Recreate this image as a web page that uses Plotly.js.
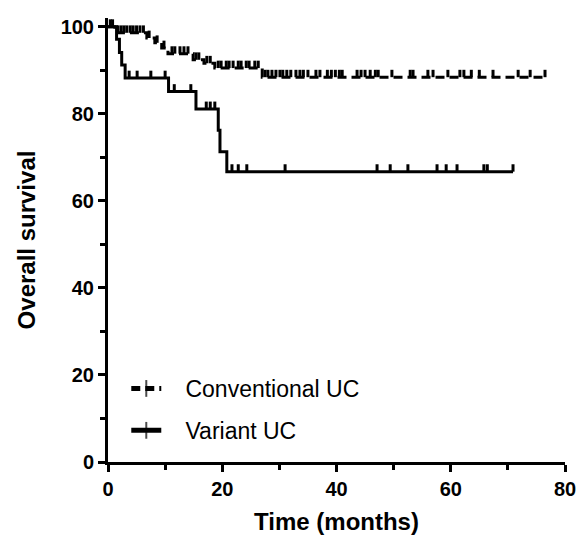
<!DOCTYPE html>
<html>
<head>
<meta charset="utf-8">
<script src="https://cdn.plot.ly/plotly-3.0.1.min.js"></script>
<style>html,body{margin:0;padding:0;background:#fff;}#chart{width:583px;height:547px;}</style>
</head>
<body>
<div id="chart"></div>
<script>
// Kaplan-Meier step data (time in months, overall survival %)
const convTime = [0, 1.2, 6.8, 8.2, 9.4, 10.5, 14.9, 16.8, 18.7, 27.0, 76.5];
const convSurv = [100, 98.6, 97.4, 96.3, 95.1, 93.8, 92.4, 91.6, 90.5, 88.4, 88.4];
const varTime = [0, 1.5, 2.0, 2.4, 3.0, 10.6, 15.4, 19.3, 19.6, 20.8, 70.9];
const varSurv = [100, 97.1, 94.1, 91.2, 88.2, 85.1, 81.1, 76.2, 71.3, 66.7, 66.7];

// Censoring times (months)
const convCensor = [0.4, 0.8, 1.75, 2.3, 2.8, 3.3, 3.9, 4.4, 5.0, 5.6, 6.2, 7.2, 8.6, 9.8,
  11.2, 11.7, 12.6, 13.3, 14.0, 15.4, 15.9, 17.3, 17.9, 19.3, 19.8, 20.7, 21.2, 21.9, 22.8,
  23.3, 24.2, 24.7, 25.7, 26.3, 27.5, 28.0, 28.7, 29.4, 30.1, 30.6, 31.3, 32.0, 32.9, 33.6,
  34.2, 35.0, 36.4, 37.1, 38.4, 39.1, 39.8, 40.5, 41.0, 43.6, 44.3, 45.0, 45.9, 46.8, 47.3,
  49.7, 52.9, 53.4, 56.0, 56.9, 59.5, 61.6, 62.3, 63.6, 65.0, 67.4, 71.8, 73.9, 76.5];
const varCensor = [3.7, 5.1, 7.5, 10.0, 11.6, 14.5, 17.2, 17.9, 18.7, 21.7, 22.8, 24.3, 31.0,
  47.1, 49.4, 52.5, 57.6, 59.2, 61.1, 65.8, 66.4, 70.9];

const seriesNames = ['Conventional UC', 'Variant UC'];
const xTickVals = [0, 20, 40, 60, 80];
const yTickVals = [0, 20, 40, 60, 80, 100];

function survAt(times, surv, t) {
  let s = surv[0];
  for (let i = 0; i < times.length; i++) { if (times[i] <= t) s = surv[i]; }
  return s;
}

const TICK_UP = 1.7; // censor mark height (data units)
const LW = 3;
const PAD = '\u00a0\u00a0\u00a0'; // gap between legend symbol and label

function kmTraces(times, surv, cens, name, dash, grp) {
  return [
    {
      x: times, y: surv, type: 'scatter', mode: 'lines+markers', name: PAD + name,
      legendgroup: grp, showlegend: true,
      line: {shape: 'hv', color: 'black', width: LW, dash: dash},
      marker: {symbol: 'line-ns', size: times.map(() => 0.001), color: 'black',
               line: {color: 'black', width: LW}},
      hoverinfo: 'skip'
    },
    {
      x: cens, y: cens.map(t => survAt(times, surv, t)), type: 'scatter', mode: 'markers',
      legendgroup: grp, showlegend: false,
      marker: {size: 1, color: 'rgba(0,0,0,0)'},
      error_y: {type: 'constant', symmetric: false, value: TICK_UP, valueminus: 0,
                width: 0, thickness: LW, color: 'black'},
      hoverinfo: 'skip'
    }
  ];
}

const data = [
  ...kmTraces(convTime, convSurv, convCensor, seriesNames[0], '9px,5px', 'g1'),
  ...kmTraces(varTime, varSurv, varCensor, seriesNames[1], 'solid', 'g2')
];

const FONT = 'Liberation Sans, Arial, Helvetica, sans-serif';
const layout = {
  width: 583, height: 547,
  margin: {l: 108, r: 18, t: 18, b: 85},
  paper_bgcolor: 'white', plot_bgcolor: 'white',
  showlegend: true,
  legend: {
    x: 0.04, y: 0.214, xanchor: 'left', yanchor: 'top',
    font: {family: FONT, size: 23, color: 'black'},
    bgcolor: 'rgba(0,0,0,0)', borderwidth: 0, itemwidth: 30,
    traceorder: 'grouped', tracegroupgap: 9, itemsizing: 'constant'
  },
  xaxis: {
    range: [0, 80], tickvals: xTickVals, ticktext: xTickVals.map(String),
    showgrid: false, zeroline: false,
    showline: true, linecolor: 'black', linewidth: LW,
    ticks: 'outside', ticklen: 7, tickwidth: LW, tickcolor: 'black',
    minor: {dtick: 10, tick0: 0, ticks: 'outside', ticklen: 5, tickwidth: LW, tickcolor: 'black'},
    tickfont: {family: FONT, size: 20, color: 'black', weight: 'bold'},
    title: {text: 'Time (months)', font: {family: FONT, size: 24, color: 'black', weight: 'bold'}, standoff: 15},
    fixedrange: true
  },
  yaxis: {
    range: [0, 102], tickvals: yTickVals, ticktext: yTickVals.map(String),
    showgrid: false, zeroline: false,
    showline: true, linecolor: 'black', linewidth: LW,
    ticks: 'outside', ticklen: 7, tickwidth: LW, tickcolor: 'black',
    minor: {dtick: 10, tick0: 0, ticks: 'outside', ticklen: 5, tickwidth: LW, tickcolor: 'black'},
    tickfont: {family: FONT, size: 20, color: 'black', weight: 'bold'},
    title: {text: 'Overall survival', font: {family: FONT, size: 24, color: 'black', weight: 'bold'}, standoff: 19},
    fixedrange: true
  }
};

Plotly.newPlot('chart', data, layout, {displayModeBar: false, staticPlot: true});
</script>
</body>
</html>
